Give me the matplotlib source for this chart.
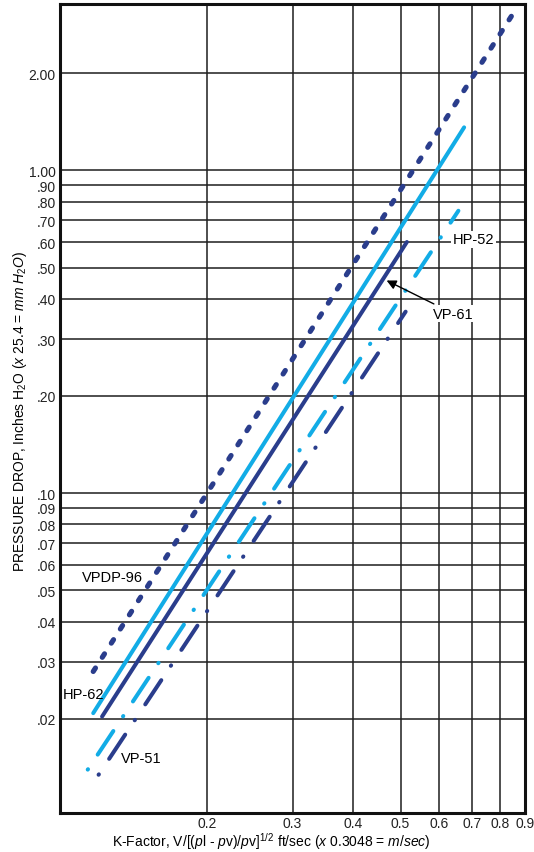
import matplotlib
matplotlib.use("Agg")
import matplotlib.pyplot as plt
from matplotlib.ticker import FixedLocator, FixedFormatter, NullLocator

# ── Data (end points of each straight line on the log-log chart) ─────────────
vpdp96_x = [0.117, 0.862]
vpdp96_y = [0.028, 3.16]
hp62_x = [0.117, 0.675]
hp62_y = [0.0208, 1.36]
vp61_x = [0.122, 0.515]
vp61_y = [0.0203, 0.600]
hp52_x = [0.114, 0.657]
hp52_y = [0.0139, 0.75]
vp51_x = [0.120, 0.512]
vp51_y = [0.0134, 0.365]

x_ticks = [0.2, 0.3, 0.4, 0.5, 0.6, 0.7, 0.8, 0.9]
x_labels = ["0.2", "0.3", "0.4", "0.5", "0.6", "0.7", "0.8", "0.9"]
y_ticks = [0.02, 0.03, 0.04, 0.05, 0.06, 0.07, 0.08, 0.09, 0.10,
           0.20, 0.30, 0.40, 0.50, 0.60, 0.70, 0.80, 0.90, 1.00, 2.00]
y_labels = [".02", ".03", ".04", ".05", ".06", ".07", ".08", ".09", ".10",
            ".20", ".30", ".40", ".50", ".60", ".70", ".80", ".90", "1.00", "2.00"]

LIGHT = "#12ACE6"
DARK = "#2A3D8C"

plt.rcParams["font.family"] = ["Liberation Sans", "DejaVu Sans"]
plt.rcParams["mathtext.fontset"] = "custom"
plt.rcParams["mathtext.rm"] = "Liberation Sans"
plt.rcParams["mathtext.it"] = "Liberation Sans:italic"
plt.rcParams["lines.scale_dashes"] = False

fig = plt.figure(figsize=(5.34, 8.53), dpi=100)
ax = fig.add_axes([60 / 534, 39 / 853, 465 / 534, 809 / 853])
ax.set_xscale("log")
ax.set_yscale("log")
ax.set_xlim(0.1, 0.9)
ax.set_ylim(0.0102, 3.28)

ax.xaxis.set_major_locator(FixedLocator(x_ticks))
ax.xaxis.set_major_formatter(FixedFormatter(x_labels))
ax.xaxis.set_minor_locator(NullLocator())
ax.yaxis.set_major_locator(FixedLocator(y_ticks))
ax.yaxis.set_major_formatter(FixedFormatter(y_labels))
ax.yaxis.set_minor_locator(NullLocator())
ax.tick_params(length=0, labelsize=10, colors="#222222")
ax.tick_params(axis="x", pad=2.5)
ax.tick_params(axis="y", pad=3)
ax.grid(True, color="#1e1e1e", linewidth=1.1)
ax.set_axisbelow(True)
for s in ax.spines.values():
    s.set_linewidth(2.2)
    s.set_color("#111111")

# lines
ax.plot(vpdp96_x, vpdp96_y, color=DARK, lw=3.7, linestyle=(0, (3.0, 9.1)),
        dash_capstyle="round", zorder=3)
ax.plot(hp62_x, hp62_y, color=LIGHT, lw=2.9, solid_capstyle="round", zorder=3)
ax.plot(vp61_x, vp61_y, color=DARK, lw=2.9, solid_capstyle="round", zorder=3)
ax.plot(hp52_x, hp52_y, color=LIGHT, lw=2.9,
        linestyle=(0, (0.36, 12.6, 20.4, 12.6)), dash_capstyle="round", zorder=3)
ax.plot(vp51_x, vp51_y, color=DARK, lw=2.9,
        linestyle=(0, (0.36, 13.4, 20.9, 12.4)), dash_capstyle="round", zorder=3)

# labels
fs = 10.5
ax.text(0.111, 0.0551, "VPDP-96", fontsize=fs, va="center", ha="left", zorder=4)
ax.text(0.1014, 0.0238, "HP-62", fontsize=fs, va="center", ha="left", zorder=4)
ax.text(0.1334, 0.01506, "VP-51", fontsize=fs, va="center", ha="left", zorder=4)
ax.text(0.640, 0.611, "HP-52", fontsize=fs, va="center", ha="left", zorder=4,
        bbox=dict(facecolor="white", edgecolor="none", pad=1))
ax.annotate("VP-61", xy=(0.468, 0.456), xytext=(0.583, 0.36), fontsize=fs,
            va="center", ha="left", zorder=4,
            bbox=dict(facecolor="white", edgecolor="none", pad=1),
            arrowprops=dict(arrowstyle="-|>", color="black", lw=1.0,
                            mutation_scale=14, shrinkA=2, shrinkB=0))

fig.text(20 / 534, 1 - 412 / 853,
         r"PRESSURE DROP, Inches H$_2$O $\mathit{(x\ 25.4}$ = $\mathit{mm\ H_2O)}$",
         rotation=90, ha="center", va="center", fontsize=10)
fig.text(271 / 534, 1 - 842 / 853,
         r"K-Factor, V/[($\mathit{p}$l - $\mathit{p}$v)/$\mathit{p}$v]$^{1/2}$ ft/sec "
         r"$\mathit{(x\ 0.3048}$ = $\mathit{m/sec)}$",
         ha="center", va="center", fontsize=10)

fig.savefig("out.png", dpi=100)
